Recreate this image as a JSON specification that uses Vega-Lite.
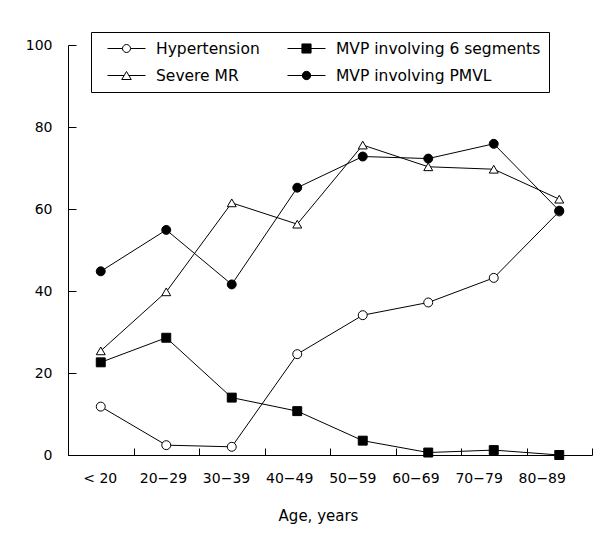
{
  "$schema": "https://vega.github.io/schema/vega-lite/v6.json",
  "width": 524,
  "height": 410,
  "autosize": {"type": "none"},
  "padding": {"left": 68, "top": 45, "right": 13, "bottom": 84},
  "background": "white",
  "config": {
    "font": "DejaVu Sans",
    "view": {"stroke": null},
    "axis": {"domainColor": "black", "tickColor": "black", "labelColor": "black", "titleColor": "black", "grid": false, "titleFontWeight": "normal", "domainWidth": 1, "tickWidth": 1}
  },
  "data": {
    "values": [
      {"age": "< 20", "series": "Hypertension", "pct": 11.8},
      {"age": "20−29", "series": "Hypertension", "pct": 2.4},
      {"age": "30−39", "series": "Hypertension", "pct": 2.0},
      {"age": "40−49", "series": "Hypertension", "pct": 24.6},
      {"age": "50−59", "series": "Hypertension", "pct": 34.1},
      {"age": "60−69", "series": "Hypertension", "pct": 37.2},
      {"age": "70−79", "series": "Hypertension", "pct": 43.2},
      {"age": "80−89", "series": "Hypertension", "pct": 59.4},
      {"age": "< 20", "series": "Severe MR", "pct": 25.4},
      {"age": "20−29", "series": "Severe MR", "pct": 39.8},
      {"age": "30−39", "series": "Severe MR", "pct": 61.5},
      {"age": "40−49", "series": "Severe MR", "pct": 56.3},
      {"age": "50−59", "series": "Severe MR", "pct": 75.6},
      {"age": "60−69", "series": "Severe MR", "pct": 70.3},
      {"age": "70−79", "series": "Severe MR", "pct": 69.7},
      {"age": "80−89", "series": "Severe MR", "pct": 62.4},
      {"age": "< 20", "series": "MVP involving 6 segments", "pct": 22.6},
      {"age": "20−29", "series": "MVP involving 6 segments", "pct": 28.6},
      {"age": "30−39", "series": "MVP involving 6 segments", "pct": 14.0},
      {"age": "40−49", "series": "MVP involving 6 segments", "pct": 10.7},
      {"age": "50−59", "series": "MVP involving 6 segments", "pct": 3.5},
      {"age": "60−69", "series": "MVP involving 6 segments", "pct": 0.6},
      {"age": "70−79", "series": "MVP involving 6 segments", "pct": 1.2},
      {"age": "80−89", "series": "MVP involving 6 segments", "pct": 0},
      {"age": "< 20", "series": "MVP involving PMVL", "pct": 44.8},
      {"age": "20−29", "series": "MVP involving PMVL", "pct": 54.9},
      {"age": "30−39", "series": "MVP involving PMVL", "pct": 41.6},
      {"age": "40−49", "series": "MVP involving PMVL", "pct": 65.2},
      {"age": "50−59", "series": "MVP involving PMVL", "pct": 72.8},
      {"age": "60−69", "series": "MVP involving PMVL", "pct": 72.3},
      {"age": "70−79", "series": "MVP involving PMVL", "pct": 75.9},
      {"age": "80−89", "series": "MVP involving PMVL", "pct": 59.6}
    ]
  },
  "encoding": {
    "x": {
      "field": "age", "type": "ordinal", "sort": null,
      "scale": {"type": "band", "paddingInner": 0, "paddingOuter": 0, "domain": ["< 20", "20−29", "30−39", "40−49", "50−59", "60−69", "70−79", "80−89"]},
      "axis": {
        "title": "Age, years", "titleFontSize": 15, "titlePadding": 23, "titleX": 250,
        "labelFontSize": 14, "labelAngle": 0, "tickBand": "extent", "tickSize": -7, "labelPadding": 23,
        "labelOffset": {"expr": "-1 - datum.index*16.5"}
      }
    },
    "y": {
      "field": "pct", "type": "quantitative",
      "scale": {"domain": [0, 100], "nice": false, "zero": true},
      "axis": {"title": null, "values": [0, 20, 40, 60, 80, 100], "labelFontSize": 14, "tickSize": -8, "labelPadding": 24}
    }
  },
  "layer": [
    {
      "mark": {"type": "line", "color": "black", "strokeWidth": 1},
      "encoding": {"detail": {"field": "series"}}
    },
    {
      "mark": {
        "type": "point", "filled": true, "stroke": "black", "strokeWidth": 1, "size": 80, "opacity": 1,
        "shape": {"expr": "datum.series === 'Severe MR' ? 'triangle-up' : datum.series === 'MVP involving 6 segments' ? 'square' : 'circle'"}
      },
      "encoding": {
        "fill": {
          "field": "series", "type": "nominal",
          "scale": {"domain": ["Hypertension", "MVP involving 6 segments", "Severe MR", "MVP involving PMVL"], "range": ["white", "black", "white", "black"]},
          "legend": {
            "title": null, "orient": "none", "legendX": 23, "legendY": -13, "columns": 2,
            "direction": "horizontal",
            "padding": 8, "strokeColor": "black", "fillColor": "white", "cornerRadius": 0,
            "symbolSize": 1444, "symbolStrokeColor": "black", "symbolStrokeWidth": 1, "symbolOpacity": 1,
            "symbolOffset": 8, "labelOffset": 10, "clipHeight": 17, "rowPadding": 10, "columnPadding": 19,
            "labelFontSize": 15.5, "labelColor": "black", "labelLimit": 400,
            "symbolType": {"expr": "datum.value === 'Hypertension' ? 'M-1,0L-0.21,0M0.21,0L1,0M0.21,0A0.21,0.21,0,1,1,-0.21,0A0.21,0.21,0,1,1,0.21,0Z' : datum.value === 'Severe MR' ? 'M-1,0L-0.12,0M0.12,0L1,0M0,-0.21L0.25,0.21L-0.25,0.21Z' : datum.value === 'MVP involving 6 segments' ? 'M-1,0L1,0M-0.24,-0.24L0.24,-0.24L0.24,0.24L-0.24,0.24Z' : 'M-1,0L1,0M0.22,0A0.22,0.22,0,1,1,-0.22,0A0.22,0.22,0,1,1,0.22,0Z'"}
          }
        }
      }
    }
  ]
}
